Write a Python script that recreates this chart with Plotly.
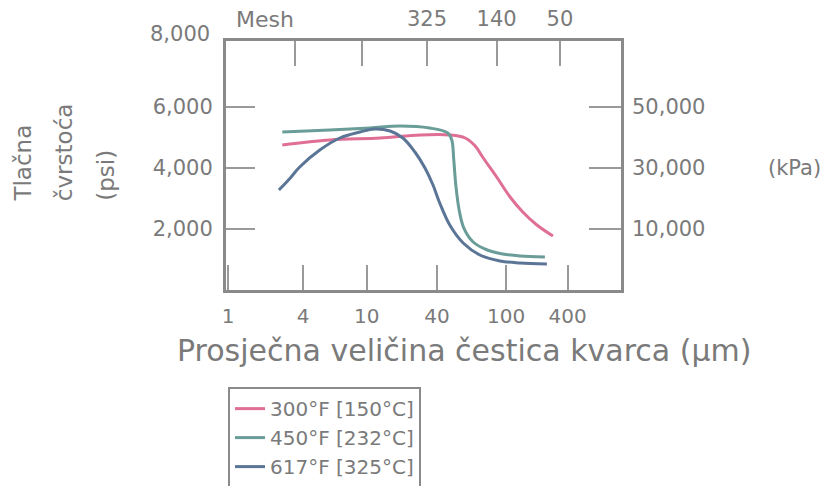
import plotly.graph_objects as go

# x positions are in "axis units" of the original's (non-log) particle size axis
size_tick_pos = [0, 1.12, 2.07, 3.12, 4.15, 5.07]
size_tick_text = ["1", "4", "10", "40", "100", "400"]
mesh_tick_pos = [1.0, 2.0, 2.97, 4.01, 4.955]
mesh_tick_text = ["", "", "325", "140", "50"]

psi_ticks = [2000, 4000, 6000]
psi_text = ["2,000", "4,000", "6,000"]
kpa_text = ["10,000", "30,000", "50,000"]

x_300 = [0.81, 1.52, 2.27, 2.87, 3.31, 3.54, 3.69, 3.81, 4.01, 4.21, 4.40, 4.61, 4.85]
y_300 = [4746, 4910, 4975, 5073, 5073, 4975, 4713, 4320, 3698, 3044, 2553, 2127, 1767]

x_450 = [0.81, 1.52, 2.12, 2.57, 3.01, 3.28, 3.34, 3.37, 3.40, 3.45, 3.52, 3.66, 3.87, 4.10, 4.36, 4.73]
y_450 = [5171, 5237, 5302, 5368, 5302, 5139, 4910, 4255, 3437, 2618, 2029, 1571, 1309, 1178, 1113, 1080]

x_617 = [0.76, 0.93, 1.07, 1.37, 1.67, 1.97, 2.19, 2.42, 2.61, 2.79, 2.94, 3.06, 3.16, 3.31, 3.51,
         3.76, 4.06, 4.36, 4.76]
y_617 = [3273, 3666, 4026, 4582, 4975, 5171, 5270, 5204, 4975, 4517, 3993, 3437, 2848, 2127, 1538,
         1146, 949, 884, 851]

grey = "#7a7a7a"
font = "DejaVu Sans"

fig = go.Figure()
fig.add_trace(go.Scatter(x=x_300, y=y_300, mode="lines", name="300°F [150°C]",
                         line=dict(color="#df6f95", width=3, shape="spline")))
fig.add_trace(go.Scatter(x=x_450, y=y_450, mode="lines", name="450°F [232°C]",
                         line=dict(color="#6a9c98", width=3, shape="spline")))
fig.add_trace(go.Scatter(x=x_617, y=y_617, mode="lines", name="617°F [325°C]",
                         line=dict(color="#5b7596", width=3, shape="spline")))
# empty trace so the top / right axes get drawn
fig.add_trace(go.Scatter(x=[None], y=[None], xaxis="x2", yaxis="y2", showlegend=False))

x_range = [-0.03, 5.866]
y_range = [0, 8150]

# page body has an 8px margin, so the figure is 8px smaller than the window
fig.update_layout(
    width=824, height=478,
    margin=dict(l=218, r=211, t=33, b=196, autoexpand=False),
    plot_bgcolor="white", paper_bgcolor="white",
    font=dict(family=font, color=grey, size=20),
    xaxis=dict(range=x_range, tickvals=size_tick_pos, ticktext=size_tick_text,
               ticks="inside", ticklen=25, tickwidth=2, tickcolor="#9a9a9a",
               showline=True, linecolor="#8a8a8a", linewidth=3, mirror=True,
               showgrid=False, zeroline=False, ticklabelstandoff=6,
               tickfont=dict(size=20, color=grey)),
    xaxis2=dict(range=x_range, overlaying="x", side="top", tickvals=mesh_tick_pos,
                ticktext=mesh_tick_text, ticks="inside", ticklen=25, tickwidth=2,
                tickcolor="#9a9a9a", showgrid=False, zeroline=False, showline=False,
                ticklabelstandoff=10, tickfont=dict(size=21, color=grey)),
    yaxis=dict(range=y_range, tickvals=psi_ticks, ticktext=psi_text,
               ticks="inside", ticklen=29, tickwidth=2, tickcolor="#9a9a9a",
               showline=True, linecolor="#8a8a8a", linewidth=3, mirror=True,
               showgrid=False, zeroline=False, ticklabelstandoff=6,
               tickfont=dict(size=21, color=grey)),
    yaxis2=dict(range=y_range, overlaying="y", side="right", tickvals=psi_ticks,
                ticktext=kpa_text, ticks="inside", ticklen=32, tickwidth=2,
                tickcolor="#9a9a9a", showgrid=False, zeroline=False, showline=False,
                ticklabelstandoff=10, tickfont=dict(size=21, color=grey)),
    legend=dict(x=0.005, y=-0.39, xanchor="left", yanchor="top", bgcolor="white",
                bordercolor="#8a8a8a", borderwidth=2, font=dict(size=20, color=grey)),
    showlegend=True,
)

ann = [
    dict(text="8,000", x=-0.035, y=1.028, xanchor="right", yanchor="middle", font=dict(size=21)),
    dict(text="Mesh", x=0.099, y=1.085, xanchor="center", yanchor="middle", font=dict(size=22)),
    dict(text="(kPa)", x=1.44, y=0.49, xanchor="center", yanchor="middle", font=dict(size=21)),
    dict(text="Prosječna veličina čestica kvarca (µm)", x=0.605, y=-0.241,
         xanchor="center", yanchor="middle", font=dict(size=30)),
    dict(text="Tlačna", x=-0.514, y=0.349, textangle=-90, xanchor="center", yanchor="bottom",
         font=dict(size=23)),
    dict(text="čvrstoća", x=-0.41, y=0.349, textangle=-90, xanchor="center", yanchor="bottom",
         font=dict(size=23)),
    dict(text="(psi)", x=-0.306, y=0.349, textangle=-90, xanchor="center", yanchor="bottom",
         font=dict(size=23)),
]
for a in ann:
    fig.add_annotation(xref="paper", yref="paper", showarrow=False, **a)

fig.write_html("out.html")
